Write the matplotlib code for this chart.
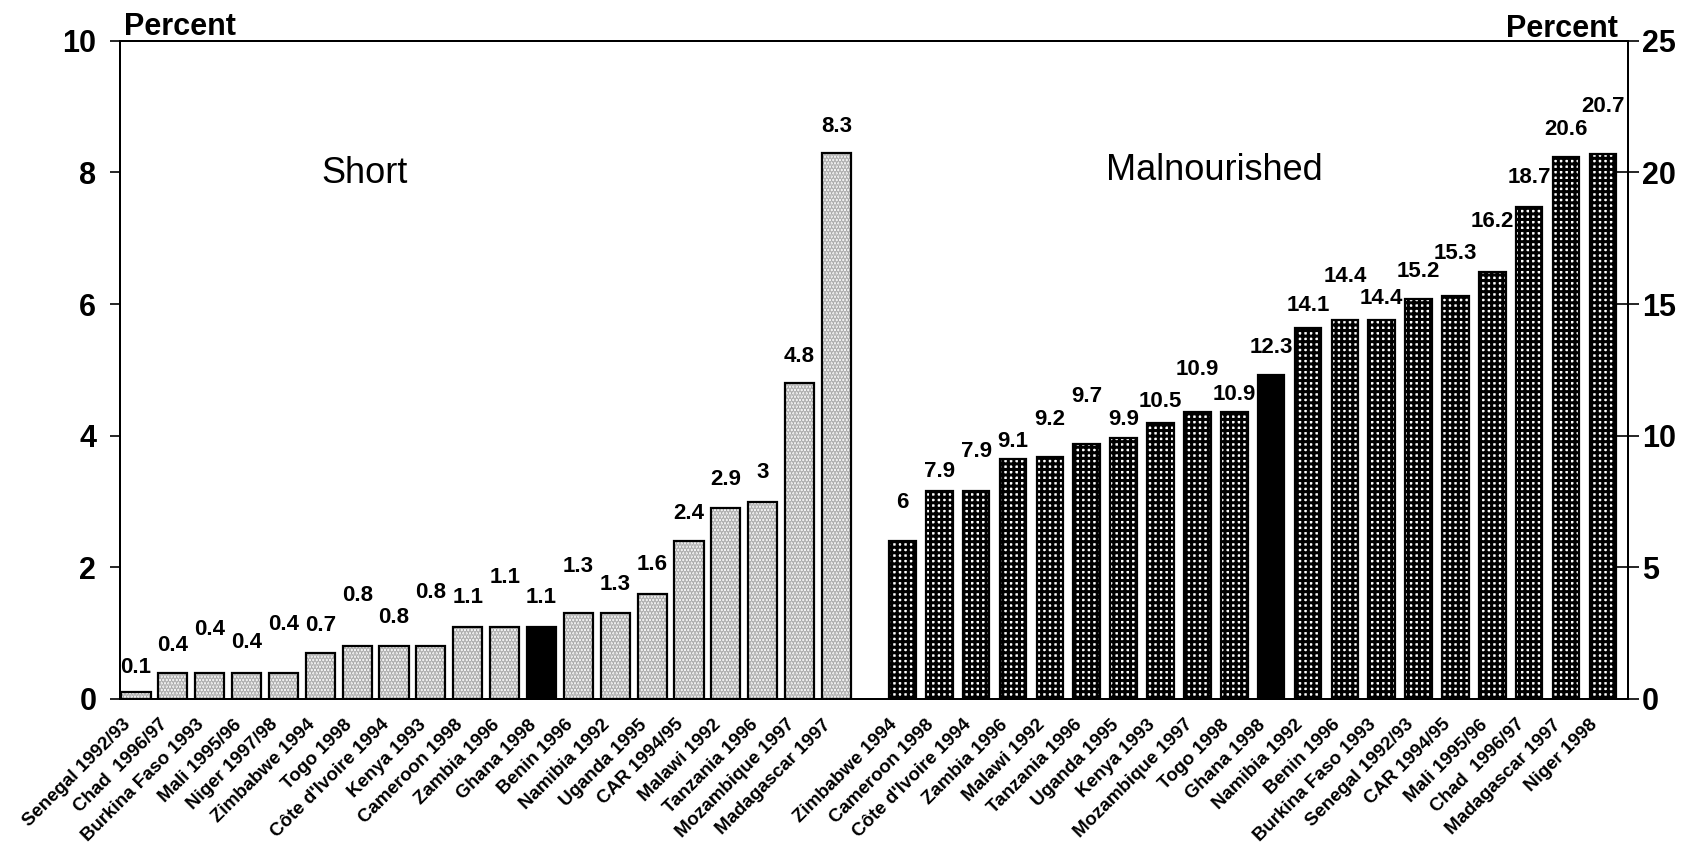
import matplotlib
matplotlib.use("Agg")
import matplotlib.pyplot as plt
import matplotlib.transforms as mtransforms
import numpy as np

# ---------------- data ----------------
short_countries = ["Senegal 1992/93", "Chad  1996/97", "Burkina Faso 1993", "Mali 1995/96",
                   "Niger 1997/98", "Zimbabwe 1994", "Togo 1998", "Côte d'Ivoire 1994",
                   "Kenya 1993", "Cameroon 1998", "Zambia 1996", "Ghana 1998", "Benin 1996",
                   "Namibia 1992", "Uganda 1995", "CAR 1994/95", "Malawi 1992",
                   "Tanzania 1996", "Mozambique 1997", "Madagascar 1997"]
short_values = [0.1, 0.4, 0.4, 0.4, 0.4, 0.7, 0.8, 0.8, 0.8, 1.1, 1.1, 1.1, 1.3, 1.3,
                1.6, 2.4, 2.9, 3, 4.8, 8.3]

mal_countries = ["Zimbabwe 1994", "Cameroon 1998", "Côte d'Ivoire 1994", "Zambia 1996",
                 "Malawi 1992", "Tanzania 1996", "Uganda 1995", "Kenya 1993",
                 "Mozambique 1997", "Togo 1998", "Ghana 1998", "Namibia 1992", "Benin 1996",
                 "Burkina Faso 1993", "Senegal 1992/93", "CAR 1994/95", "Mali 1995/96",
                 "Chad  1996/97", "Madagascar 1997", "Niger 1998"]
mal_values = [6, 7.9, 7.9, 9.1, 9.2, 9.7, 9.9, 10.5, 10.9, 10.9, 12.3, 14.1, 14.4, 14.4,
              15.2, 15.3, 16.2, 18.7, 20.6, 20.7]

highlight = "Ghana 1998"
left_ticks = [0, 2, 4, 6, 8, 10]
right_ticks = [0, 5, 10, 15, 20, 25]

# label vertical offsets above bar tops (pixels) - layout only
short_label_off = [25, 27, 43, 30, 48, 27, 51, 29, 54, 29, 49, 29, 47, 29, 29, 28, 29, 29, 27, 26]
mal_label_off = [39, 19, 39, 18, 37, 47, 19, 21, 42, 17, 28, 22, 43, 21, 27, 43, 51, 29, 27, 47]

# ---------------- style ----------------
plt.rcParams["font.family"] = ["Liberation Sans", "DejaVu Sans"]
plt.rcParams["hatch.linewidth"] = 2.2

fig = plt.figure(figsize=(16.99, 8.49), dpi=100)
ax = fig.add_axes([0.0706, 0.1767, 0.9582 - 0.0706, 0.952 - 0.1767])
ax2 = ax.twinx()

n_s = len(short_values)
n_m = len(mal_values)
gap = 1.79
x_short = np.arange(n_s)
x_mal = n_s - 1 + gap + np.arange(n_m)

# short bars: light stipple
s_face = ["black" if c == highlight else "white" for c in short_countries]
s_hatch = [None if c == highlight else "....." for c in short_countries]
for xi, v, fc, h in zip(x_short, short_values, s_face, s_hatch):
    ax.bar(xi, v, width=0.79, color=fc, edgecolor="#a8a8a8", hatch=h, linewidth=0, zorder=2)
ax.bar(x_short, short_values, width=0.79, fill=False, edgecolor="black", linewidth=1.6, zorder=3)

# malnourished bars: dense grid
m_face = ["black" if c == highlight else "white" for c in mal_countries]
m_hatch = [None if c == highlight else "+++" for c in mal_countries]
for xi, v, fc, h in zip(x_mal, mal_values, m_face, m_hatch):
    ax2.bar(xi, v, width=0.72, color=fc, edgecolor="black", hatch=h, linewidth=1.6, zorder=2)

# value labels
for xi, v, off in zip(x_short, short_values, short_label_off):
    ax.annotate(f"{v:g}", (xi, v), xytext=(0, off * 0.72), textcoords="offset points",
                ha="center", va="center", fontsize=16, fontweight="bold")
for xi, v, off in zip(x_mal, mal_values, mal_label_off):
    ax2.annotate(f"{v:g}", (xi, v), xytext=(0, off * 0.72), textcoords="offset points",
                 ha="center", va="center", fontsize=16, fontweight="bold")

# axes limits and ticks
ax.set_xlim(-0.434, 40.47)
ax.set_ylim(0, 10)
ax2.set_ylim(0, 25)
ax.set_yticks(left_ticks)
ax2.set_yticks(right_ticks)
ax.tick_params(axis="y", direction="out", length=7, width=1.2, pad=10, labelsize=22)
ax2.tick_params(axis="y", direction="inout", length=16, width=1.2, pad=2, labelsize=22)
for lab in ax.get_yticklabels() + ax2.get_yticklabels():
    lab.set_fontweight("bold")

ax.set_xticks(np.concatenate([x_short, x_mal]))
ax.set_xticklabels(short_countries + mal_countries, rotation=45, ha="right",
                   va="baseline", rotation_mode="anchor", fontsize=13.5, fontweight="bold")
ax.tick_params(axis="x", length=0, pad=19)

for a in (ax, ax2):
    for sp in a.spines.values():
        sp.set_linewidth(1.4)

# titles / annotations
ax.text(0.003, 1.008, "Percent", transform=ax.transAxes, ha="left", va="baseline",
        fontsize=22, fontweight="bold")
ax.text(0.993, 1.006, "Percent", transform=ax.transAxes, ha="right", va="baseline",
        fontsize=22, fontweight="bold")
ax.text(0.1625, 0.798, "Short", transform=ax.transAxes, ha="center", va="center", fontsize=26)
ax.text(0.7255, 0.803, "Malnourished", transform=ax.transAxes, ha="center", va="center",
        fontsize=26)

# shift rotated tick labels slightly to the left
shift = mtransforms.ScaledTranslation(-0.045, 0, fig.dpi_scale_trans)
for lab in ax.get_xticklabels():
    lab.set_transform(lab.get_transform() + shift)

fig.savefig("out.png", dpi=100)
